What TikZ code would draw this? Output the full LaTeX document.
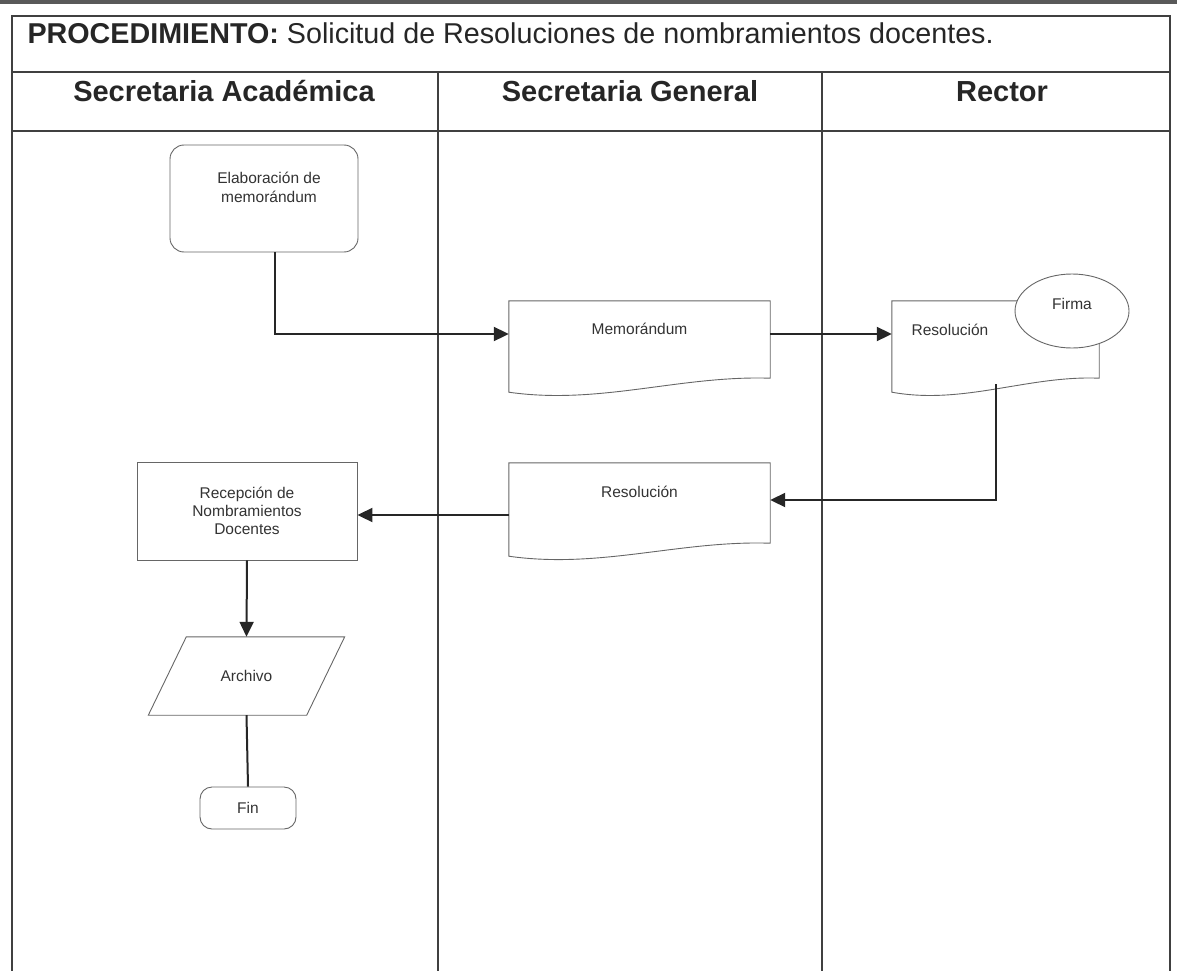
\documentclass[tikz,border=0pt]{standalone}
\usepackage{fontspec}
\setmainfont{Liberation Sans}
\usetikzlibrary{arrows.meta,shapes.geometric}

\tikzset{
  frame/.style={draw=black!75, line width=1.2pt},
  lane/.style={anchor=base, font=\bfseries\fontsize{29}{34}\selectfont, text=black!85},
  shp/.style={draw=black!60, line width=0.9pt, fill=white},
  outline/.style={draw=black!60, line width=0.9pt},
  txt/.style={font=\fontsize{15.5}{18.3}\selectfont, text=black!80, align=center},
  conn/.style={draw=black!85, line width=2pt},
  flow/.style={conn, -{Triangle[length=15pt,width=14pt]}},
}

\begin{document}
\begin{tikzpicture}[x=1pt, y=-1pt]
\useasboundingbox (0,0) rectangle (1177,971);
% scanned edge at the top
\fill[black!65] (0,0) rectangle (1177,4);

% frame and lanes
\draw[frame] (12,971) -- (12,16) -- (1170,16) -- (1170,971);
\draw[frame] (12,72) -- (1170,72);
\draw[frame] (12,131) -- (1170,131);
\draw[frame] (438,72) -- (438,971);
\draw[frame] (822,72) -- (822,971);

\node[anchor=base west, font=\fontsize{28.7}{34}\selectfont, text=black!85] (title) at (24,44)
  {\textbf{PROCEDIMIENTO:} Solicitud de Resoluciones de nombramientos docentes.};
\node[lane] (acad) at (224,102) {Secretaria Académica};
\node[lane] (gral) at (630,102) {Secretaria General};
\node[lane] (rect) at (1002,102) {Rector};

% Secretaria Academica
\node[shp, rounded corners=14pt, minimum width=188pt, minimum height=107pt,
  label={[txt, xshift=5pt, yshift=11pt]center:Elaboración de\\memorándum}] (elab) at (264,198.5) {};

% Secretaria General: memo
\node[minimum width=261pt, minimum height=77pt,
  label={[txt, yshift=10.5pt]center:Memorándum}] (memo) at (639.5,339.5) {};
\draw[outline] (memo.south east) -- (memo.north east) -- (memo.north west) -- ([yshift=-14pt]memo.south west)
  .. controls +(91,13) and +(-90,-3) .. (memo.south east) -- cycle;

% Rector: resolution with signature
\node[minimum width=207pt, minimum height=77pt,
  label={[txt, xshift=-45.5pt, yshift=9.5pt]center:Resolución}] (resR) at (995.5,339.5) {};
\draw[outline] (resR.south east) -- (resR.north east) -- (resR.north west) -- ([yshift=-14pt]resR.south west)
  .. controls +(72,13) and +(-71,-3) .. (resR.south east) -- cycle;
\node[shp, ellipse, minimum width=114pt, minimum height=74pt,
  label={[txt, yshift=7pt]center:Firma}] (firma) at (1072,311) {};

% Secretaria General: resolution
\node[minimum width=261pt, minimum height=80pt,
  label={[txt, yshift=11pt]center:Resolución}] (resS) at (639.5,503) {};
\draw[outline] (resS.south east) -- (resS.north east) -- (resS.north west) -- ([yshift=-13pt]resS.south west)
  .. controls +(91,13) and +(-90,-3) .. (resS.south east) -- cycle;

% Secretaria Academica: reception, file, end
\node[shp, txt, minimum width=220pt, minimum height=98pt] (recep) at (247,511)
  {Recepción de\\Nombramientos\\Docentes};
\node[txt, minimum width=158pt, minimum height=78pt] (arch) at (246.5,676) {Archivo};
\draw[outline] ([xshift=19pt]arch.north west) -- ([xshift=19pt]arch.north east)
  -- ([xshift=-19pt]arch.south east) -- ([xshift=-19pt]arch.south west) -- cycle;
\node[shp, txt, rounded corners=12pt, minimum width=96pt, minimum height=42pt] (fin) at (248,808) {Fin};

% connectors
\draw[flow] ([xshift=11pt]elab.south) |- ([yshift=5.5pt]memo.west);
\draw[flow] ([yshift=5.5pt]memo.east) -- ([yshift=5.5pt]resR.west);
\draw[flow] ([yshift=-6pt]resR.south) |- ([yshift=3pt]resS.east);
\draw[flow] ([yshift=-4pt]resS.west |- recep.east) -- ([yshift=-4pt]recep.east);
\draw[flow] (recep.south) -- (arch.north);
\draw[conn] (arch.south) -- (fin.north);
\end{tikzpicture}
\end{document}
